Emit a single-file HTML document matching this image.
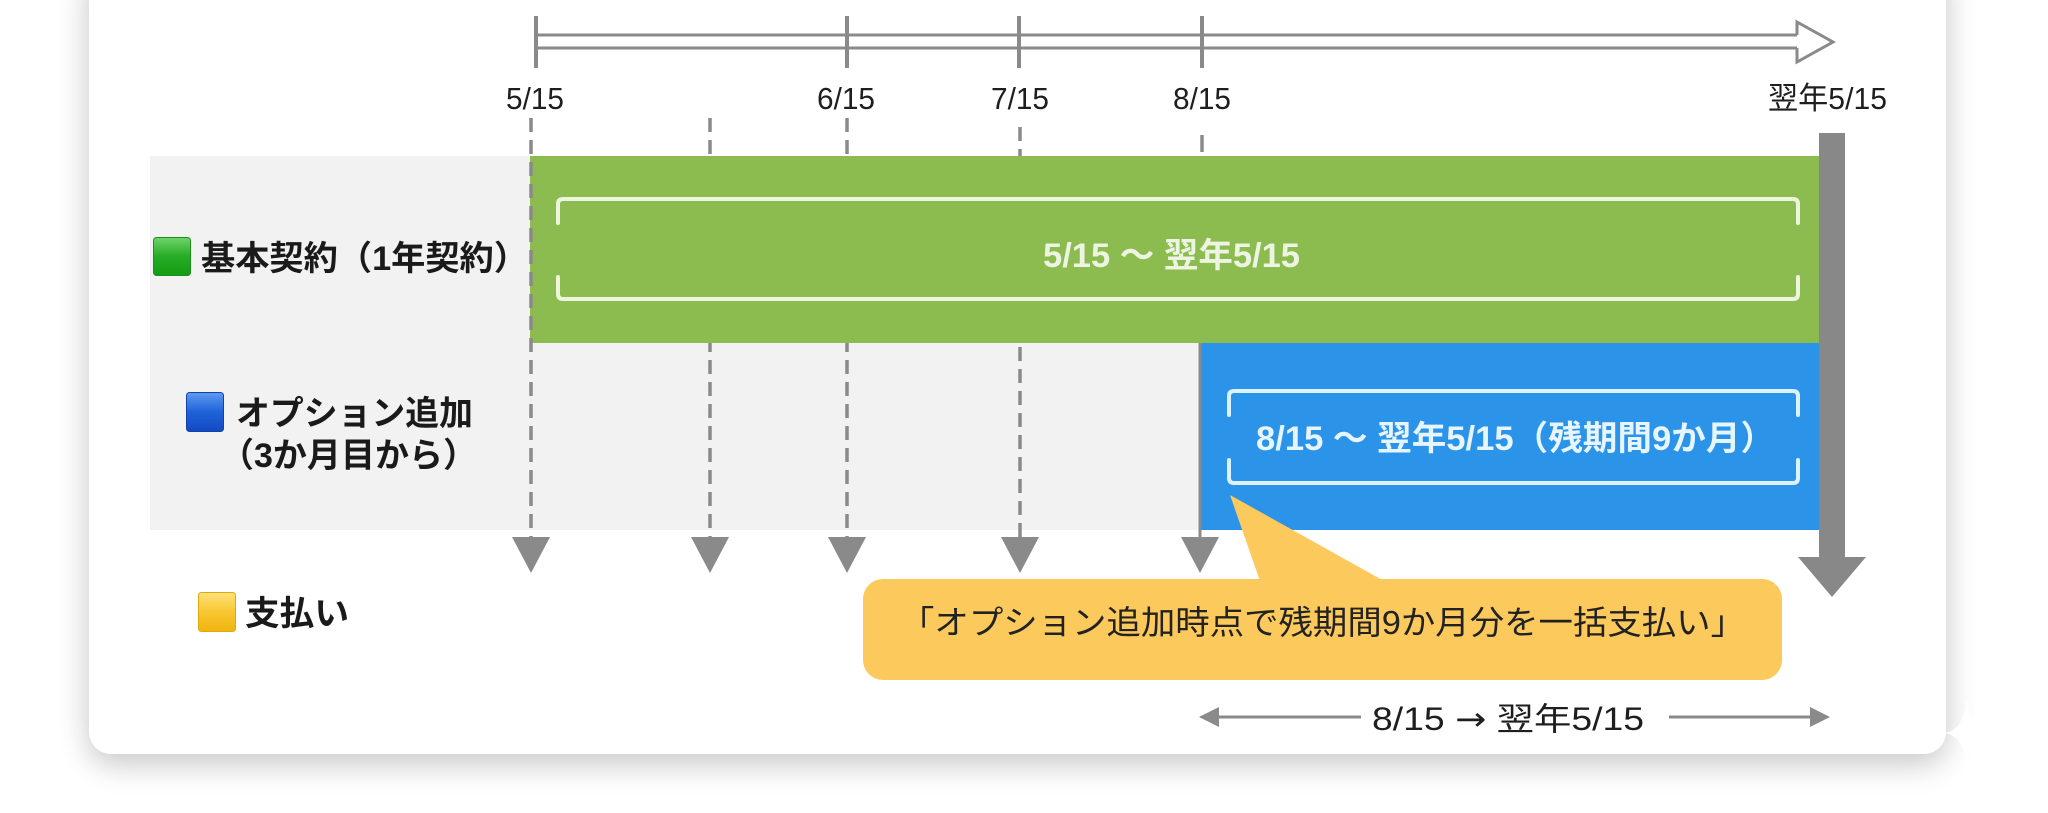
<!DOCTYPE html>
<html>
<head>
<meta charset="utf-8">
<style>
html,body{margin:0;padding:0;background:#ffffff;}
body{width:2048px;height:813px;position:relative;overflow:hidden;}
#card{position:absolute;left:89px;top:-40px;width:1857px;height:794px;background:#ffffff;border-radius:22px;
box-shadow:0 12px 30px rgba(0,0,0,0.17),0 0 36px rgba(0,0,0,0.07);}
svg{position:absolute;left:0;top:0;}
.t{font-family:"Liberation Sans","Noto Sans CJK JP",sans-serif;}
</style>
</head>
<body>
<div id="card"></div>
<svg width="2048" height="813" viewBox="0 0 2048 813" xmlns="http://www.w3.org/2000/svg">
  <defs>
    <linearGradient id="gG" x1="0" y1="0" x2="0" y2="1">
      <stop offset="0" stop-color="#6fd36a"/><stop offset="0.5" stop-color="#26ac26"/><stop offset="1" stop-color="#139c13"/>
    </linearGradient>
    <linearGradient id="gB" x1="0" y1="0" x2="0" y2="1">
      <stop offset="0" stop-color="#5e9cf2"/><stop offset="0.5" stop-color="#1f62d8"/><stop offset="1" stop-color="#1449c4"/>
    </linearGradient>
    <linearGradient id="gY" x1="0" y1="0" x2="0" y2="1">
      <stop offset="0" stop-color="#ffe27a"/><stop offset="0.5" stop-color="#f8c630"/><stop offset="1" stop-color="#f0b510"/>
    </linearGradient>
  </defs>

  <!-- gray label / lane panel -->
  <rect x="150" y="156" width="1669" height="374" fill="#f2f2f2"/>

  <!-- timeline hollow arrow -->
  <g stroke="#8a8a8a" stroke-width="3" fill="none">
    <line x1="536" y1="35" x2="1797" y2="35"/>
    <line x1="536" y1="48" x2="1797" y2="48"/>
    <path d="M1797,35 V22 L1833,42 L1797,62 V48" fill="#ffffff" stroke-linejoin="miter"/>
  </g>
  <!-- ticks -->
  <g stroke="#8a8a8a" stroke-width="4">
    <line x1="536" y1="16" x2="536" y2="68"/>
    <line x1="847" y1="16" x2="847" y2="68"/>
    <line x1="1019" y1="16" x2="1019" y2="68"/>
    <line x1="1202" y1="16" x2="1202" y2="68"/>
  </g>

  <!-- dashed guide lines (under bars) -->
  <g stroke="#8a8a8a" stroke-width="3.5" stroke-dasharray="14 8" fill="none">
    <line x1="710" y1="118" x2="710" y2="540"/>
    <line x1="847" y1="118" x2="847" y2="540"/>
    <line x1="1020" y1="127" x2="1020" y2="540"/>
    <line x1="1202" y1="135" x2="1202" y2="152" stroke-dasharray="none"/>
  </g>

  <!-- green bar -->
  <rect x="530" y="156" width="1289" height="187" fill="#8cbc50"/>
  <!-- blue bar -->
  <rect x="1200" y="343" width="619" height="187" fill="#2b93e8"/>
  <line x1="1200" y1="343" x2="1200" y2="540" stroke="#8a8a8a" stroke-width="3"/>

  <!-- 5/15 dashed on edge -->
  <line x1="531" y1="118" x2="531" y2="540" stroke="#8a8a8a" stroke-width="3.5" stroke-dasharray="14 8"/>

  <!-- green bracket -->
  <g stroke="#eef5de" stroke-width="4" fill="none" stroke-linecap="round">
    <path d="M558,223 V204 Q558,199 563,199 H1793 Q1798,199 1798,204 V223"/>
    <path d="M558,277 V294 Q558,299 563,299 H1793 Q1798,299 1798,294 V277"/>
  </g>
  <!-- blue bracket -->
  <g stroke="#dcf3ff" stroke-width="4" fill="none" stroke-linecap="round">
    <path d="M1229,415 V396 Q1229,391 1234,391 H1793 Q1798,391 1798,396 V415"/>
    <path d="M1229,460 V478 Q1229,483 1234,483 H1793 Q1798,483 1798,478 V460"/>
  </g>

  <!-- small arrowheads -->
  <g fill="#8a8a8a">
    <polygon points="512,537 550,537 531,573"/>
    <polygon points="691,537 729,537 710,573"/>
    <polygon points="828,537 866,537 847,573"/>
    <polygon points="1001,537 1039,537 1020,573"/>
    <polygon points="1181,537 1219,537 1200,573"/>
  </g>

  <!-- big gray bar + arrow -->
  <rect x="1819" y="133" width="26" height="426" fill="#888888"/>
  <polygon points="1798,557 1866,557 1832,597" fill="#888888"/>

  <!-- callout -->
  <rect x="863" y="579" width="919" height="101" rx="20" ry="20" fill="#fcc95c"/>
  <polygon points="1230,495 1260,581 1384,581" fill="#fcc95c"/>

  <!-- bottom range arrows -->
  <g stroke="#8a8a8a" stroke-width="3">
    <line x1="1212" y1="717" x2="1361" y2="717"/>
    <line x1="1669" y1="717" x2="1815" y2="717"/>
  </g>
  <g fill="#8a8a8a">
    <polygon points="1199,717 1219,707 1219,727"/>
    <polygon points="1830,717 1810,707 1810,727"/>
  </g>

  <!-- legend icons -->
  <rect x="153.5" y="237.5" width="37" height="38" rx="3" fill="url(#gG)" stroke="#1d8f1d" stroke-width="1"/>
  <rect x="186.5" y="392.5" width="37" height="39" rx="3" fill="url(#gB)" stroke="#1443a8" stroke-width="1"/>
  <rect x="198.5" y="592.5" width="37" height="39" rx="3" fill="url(#gY)" stroke="#e0a80c" stroke-width="1"/>

  <!-- sparkle -->
  <path d="M1967,698 Q1970,730 1989,733 Q1970,736 1967,768 Q1964,736 1945,733 Q1964,730 1967,698 Z" fill="#ffffff" opacity="0.9"/>

  <!-- texts -->
  <g class="t" fill="#1e1e1e" font-size="31">
    <text x="506" y="109" textLength="58" lengthAdjust="spacingAndGlyphs">5/15</text>
    <text x="817" y="109" textLength="58" lengthAdjust="spacingAndGlyphs">6/15</text>
    <text x="991" y="109" textLength="58" lengthAdjust="spacingAndGlyphs">7/15</text>
    <text x="1173" y="109" textLength="58" lengthAdjust="spacingAndGlyphs">8/15</text>
    <text x="1768" y="109" textLength="119" lengthAdjust="spacingAndGlyphs">翌年5/15</text>
  </g>

  <text class="t" x="1043" y="267" font-size="34" font-weight="bold" fill="#eef4e2" textLength="257" lengthAdjust="spacingAndGlyphs">5/15 〜 翌年5/15</text>
  <text class="t" x="1256" y="450" font-size="34" font-weight="bold" fill="#e6f5ff" textLength="519" lengthAdjust="spacingAndGlyphs">8/15 〜 翌年5/15（残期間9か月）</text>

  <g class="t" fill="#1a1a1a" font-weight="bold" font-size="34">
    <text x="201" y="270" textLength="327" lengthAdjust="spacingAndGlyphs">基本契約（1年契約）</text>
    <text x="236" y="425" textLength="237" lengthAdjust="spacingAndGlyphs">オプション追加</text>
    <text x="220" y="467" textLength="257" lengthAdjust="spacingAndGlyphs">（3か月目から）</text>
    <text x="245" y="625" textLength="104" lengthAdjust="spacingAndGlyphs">支払い</text>
  </g>

  <text class="t" x="900" y="634" font-size="33" fill="#222222" textLength="845" lengthAdjust="spacingAndGlyphs">「オプション追加時点で残期間9か月分を一括支払い」</text>
  <text class="t" x="1372" y="730" font-size="32" fill="#1e1e1e" textLength="272" lengthAdjust="spacingAndGlyphs">8/15 <tspan font-family="DejaVu Sans, sans-serif">→</tspan> 翌年5/15</text>
</svg>
</body>
</html>
